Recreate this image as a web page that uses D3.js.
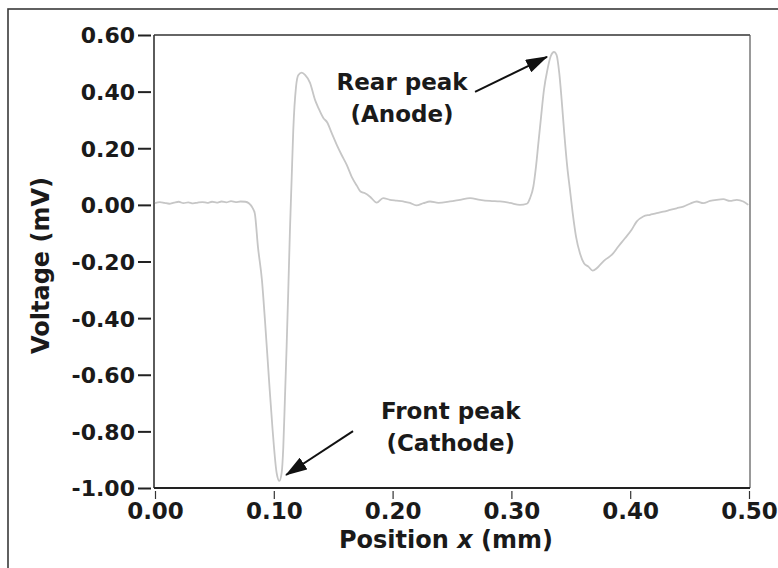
<!DOCTYPE html>
<html>
<head>
<meta charset="utf-8">
<script src="https://cdn.jsdelivr.net/npm/d3@7"></script>
<style>
  html, body { margin: 0; padding: 0; background: #fff; }
  svg { display: block; }
  text { font-family: "DejaVu Sans", Verdana, sans-serif; font-weight: bold; fill: #1a1a1a; }
</style>
</head>
<body>
<svg id="chart" width="778" height="568"></svg>
<script>
// ---- data ----
const xTicks = [0, 0.1, 0.2, 0.3, 0.4, 0.5];
const xTickLabels = ["0.00", "0.10", "0.20", "0.30", "0.40", "0.50"];
const yTicks = [0.6, 0.4, 0.2, 0.0, -0.2, -0.4, -0.6, -0.8, -1.0];
const yTickLabels = ["0.60", "0.40", "0.20", "0.00", "-0.20", "-0.40", "-0.60", "-0.80", "-1.00"];

const posX = [
  0, 0.004, 0.008, 0.012, 0.016, 0.020, 0.024, 0.028, 0.032, 0.036, 0.040,
  0.044, 0.048, 0.052, 0.056, 0.060, 0.064, 0.068, 0.072, 0.076, 0.079,
  0.082, 0.084, 0.0867, 0.090, 0.0926, 0.096, 0.099, 0.1024, 0.1047, 0.1066,
  0.108, 0.1094, 0.1108, 0.1122, 0.1136, 0.115, 0.1164, 0.1187, 0.1207, 0.1235,
  0.1263, 0.1305, 0.1347, 0.1375, 0.1417, 0.145, 0.1487, 0.153, 0.157, 0.1614,
  0.1655, 0.170, 0.173, 0.1768, 0.181, 0.1866, 0.192, 0.1978, 0.2035, 0.209,
  0.2146, 0.220, 0.226, 0.2315, 0.2386, 0.2483, 0.2567, 0.2652, 0.2736, 0.2820,
  0.2904, 0.2988, 0.3072, 0.3130, 0.3157, 0.3185, 0.3207, 0.3227, 0.325, 0.3274,
  0.3303, 0.333, 0.3359, 0.338, 0.3403, 0.3423, 0.3445, 0.347, 0.3493, 0.3516,
  0.3544, 0.3577, 0.3611, 0.3648, 0.3684, 0.3718, 0.3746, 0.3788, 0.3844, 0.390,
  0.3956, 0.4012, 0.4054, 0.411, 0.4167, 0.4223, 0.4279, 0.4335, 0.4391, 0.4447,
  0.4503, 0.456, 0.4615, 0.4672, 0.4728, 0.4784, 0.484, 0.4897, 0.4952, 0.4994
];
const voltage = [
  0.006, 0.010, 0.007, 0.004, 0.008, 0.011, 0.006, 0.009, 0.005, 0.008, 0.010,
  0.007, 0.011, 0.008, 0.012, 0.009, 0.013, 0.010, 0.012, 0.011, 0.006,
  -0.010, -0.030, -0.150, -0.265, -0.410, -0.620, -0.795, -0.947, -0.975, -0.947,
  -0.855, -0.680, -0.500, -0.300, -0.088, 0.088, 0.265, 0.417, 0.459, 0.467,
  0.459, 0.431, 0.371, 0.343, 0.307, 0.291, 0.254, 0.212, 0.177, 0.141,
  0.100, 0.067, 0.047, 0.041, 0.029, 0.008, 0.024, 0.018, 0.015, 0.012,
  0.007, -0.002, 0.006, 0.012, 0.007, 0.012, 0.018, 0.024, 0.018, 0.014,
  0.012, 0.007, 0.000, 0.004, 0.024, 0.065, 0.135, 0.218, 0.312, 0.406,
  0.477, 0.524, 0.540, 0.530, 0.465, 0.371, 0.253, 0.135, 0.053, -0.029,
  -0.112, -0.171, -0.206, -0.218, -0.232, -0.224, -0.212, -0.194, -0.177, -0.147,
  -0.118, -0.088, -0.059, -0.041, -0.035, -0.029, -0.024, -0.018, -0.012, -0.006,
  0.004, 0.012, 0.006, 0.014, 0.018, 0.020, 0.014, 0.018, 0.012, 0.000
];

// annotations: [line1, line2, textX, textY1, textY2, arrowFromX, arrowFromY, arrowToX, arrowToY]
const annoLine1 = ["Rear peak", "Front peak"];
const annoLine2 = ["(Anode)", "(Cathode)"];
const annoTextX = [0.208, 0.249];
const annoTextY1 = [0.406, -0.756];
const annoTextY2 = [0.293, -0.869];
const arrowFromX = [0.2694, 0.1667];
const arrowFromY = [0.399, -0.799];
const arrowToX = [0.330, 0.1103];
const arrowToY = [0.523, -0.954];

// ---- layout ----
const svg = d3.select("#chart");
const plot = { left: 154, right: 750, top: 35, bottom: 488 };

const x = d3.scaleLinear().domain([0, 0.5]).range([155, 749]);
const y = d3.scaleLinear().domain([-1.0, 0.6]).range([plot.bottom, plot.top]);

// outer figure border
svg.append("rect")
  .attr("x", 8).attr("y", 9).attr("width", 800).attr("height", 600)
  .attr("fill", "none").attr("stroke", "#3a3a3a").attr("stroke-width", 1.6);

// arrow marker
svg.append("defs").append("marker")
  .attr("id", "arrowhead")
  .attr("markerUnits", "userSpaceOnUse")
  .attr("markerWidth", 22).attr("markerHeight", 14)
  .attr("refX", 21).attr("refY", 7)
  .attr("orient", "auto")
  .append("path")
  .attr("d", "M0,0 L22,7 L0,14 Z")
  .attr("fill", "#111");

// plot frame
svg.append("line").attr("x1", plot.left).attr("x2", plot.right).attr("y1", plot.top).attr("y2", plot.top)
  .attr("stroke", "#333").attr("stroke-width", 1.5);
svg.append("line").attr("x1", plot.right).attr("x2", plot.right).attr("y1", plot.top).attr("y2", plot.bottom)
  .attr("stroke", "#555").attr("stroke-width", 1.2);
svg.append("line").attr("x1", plot.left).attr("x2", plot.left).attr("y1", plot.top).attr("y2", plot.bottom)
  .attr("stroke", "#333").attr("stroke-width", 1.6);
svg.append("line").attr("x1", plot.left).attr("x2", plot.right).attr("y1", plot.bottom).attr("y2", plot.bottom)
  .attr("stroke", "#222").attr("stroke-width", 2);

// data line
const pts = posX.map((d, i) => [d, voltage[i]]);
svg.append("path")
  .datum(pts)
  .attr("fill", "none")
  .attr("stroke", "#c6c6c6")
  .attr("stroke-width", 1.8)
  .attr("d", d3.line().x(d => x(d[0])).y(d => y(d[1])).curve(d3.curveMonotoneX));

// y axis
const yAxis = svg.append("g")
  .attr("transform", `translate(${plot.left},0)`)
  .call(d3.axisLeft(y).tickValues(yTicks).tickFormat((d, i) => yTickLabels[i]));
yAxis.select(".domain").remove();
yAxis.selectAll(".tick line").attr("x1", -3).attr("x2", -16).attr("stroke", "#222").attr("stroke-width", 2);
yAxis.selectAll(".tick text")
  .attr("x", -19).attr("dy", "0.36em")
  .style("font-family", "'DejaVu Sans', Verdana, sans-serif")
  .style("font-weight", "bold").style("font-size", "22px").attr("fill", "#1a1a1a");

// x axis
const xAxis = svg.append("g")
  .attr("transform", `translate(0,${plot.bottom})`)
  .call(d3.axisBottom(x).tickValues(xTicks).tickFormat((d, i) => xTickLabels[i]));
xAxis.select(".domain").remove();
xAxis.selectAll(".tick line").attr("y1", 3).attr("y2", 11).attr("stroke", "#333").attr("stroke-width", 1.2);
xAxis.selectAll(".tick text")
  .attr("y", 31).attr("dy", "0")
  .style("font-family", "'DejaVu Sans', Verdana, sans-serif")
  .style("font-weight", "bold").style("font-size", "23px").attr("fill", "#1a1a1a");

// axis titles
svg.append("text")
  .attr("transform", `translate(49,${(plot.top + plot.bottom) / 2 + 4}) rotate(-90)`)
  .attr("text-anchor", "middle")
  .style("font-size", "24px")
  .text("Voltage (mV)");

const xt = svg.append("text")
  .attr("x", 446).attr("y", 548)
  .attr("text-anchor", "middle")
  .style("font-size", "24px");
xt.append("tspan").text("Position ");
xt.append("tspan").style("font-style", "italic").text("x");
xt.append("tspan").text(" (mm)");

// annotations
annoLine1.forEach((t, i) => {
  svg.append("text")
    .attr("x", x(annoTextX[i])).attr("y", y(annoTextY1[i]))
    .attr("text-anchor", "middle").style("font-size", "23px").text(t);
  svg.append("text")
    .attr("x", x(annoTextX[i])).attr("y", y(annoTextY2[i]))
    .attr("text-anchor", "middle").style("font-size", "23px").text(annoLine2[i]);
  svg.append("line")
    .attr("x1", x(arrowFromX[i])).attr("y1", y(arrowFromY[i]))
    .attr("x2", x(arrowToX[i])).attr("y2", y(arrowToY[i]))
    .attr("stroke", "#111").attr("stroke-width", 2)
    .attr("marker-end", "url(#arrowhead)");
});
</script>
</body>
</html>
